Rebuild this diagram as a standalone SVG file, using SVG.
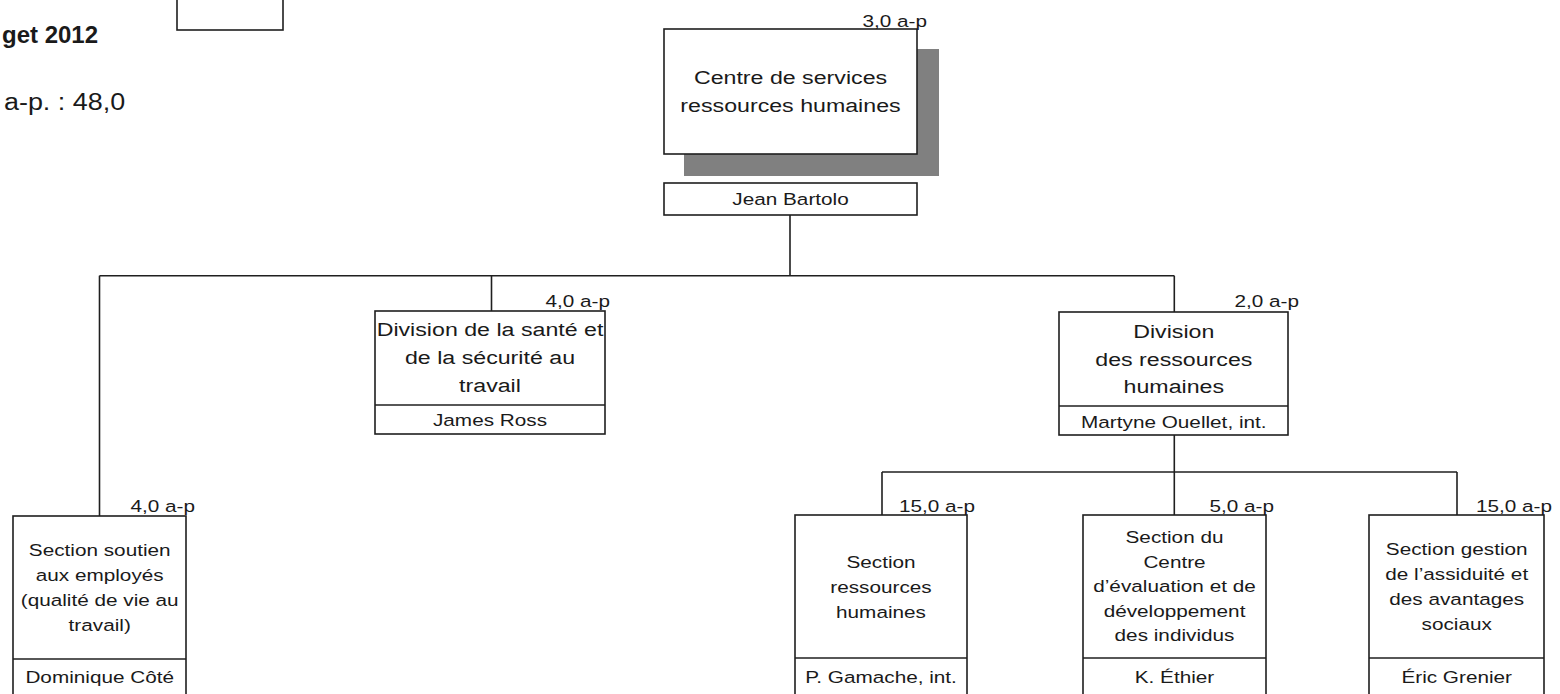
<svg xmlns="http://www.w3.org/2000/svg" width="1560" height="694" viewBox="0 0 1560 694">
<style>
  text { font-family: "Liberation Sans", Arial, sans-serif; fill: #1a1a1a; }
  .lg { font-size: 19px; text-anchor: middle; }
  .sm { font-size: 17px; text-anchor: middle; }
  .ap { font-size: 17px; text-anchor: end; }
  .box { fill: #ffffff; stroke: #1f1f1f; stroke-width: 1.6; }
  .div { stroke: #1f1f1f; stroke-width: 1.6; }
  .conn line { stroke: #1f1f1f; stroke-width: 1.6; }
  .shadow { fill: #808080; }
</style>
<rect x="0" y="0" width="1560" height="694" fill="#ffffff"/>

<g id="header">
  <rect class="box" x="177" y="-5" width="106" height="35"/>
  <text x="2" y="43" style="font-size:24px;font-weight:bold">get 2012</text>
  <text transform="matrix(1.17 0 0 1 4 110)" style="font-size:23px">a-p. : 48,0</text>
</g>

<g class="conn" id="connectors">
  <line x1="790" y1="215" x2="790" y2="275.7"/>
  <line x1="99.5" y1="275.7" x2="1174.3" y2="275.7"/>
  <line x1="491.5" y1="275.7" x2="491.5" y2="311"/>
  <line x1="1174.3" y1="275.7" x2="1174.3" y2="312"/>
  <line x1="99.5" y1="275.7" x2="99.5" y2="516"/>
  <line x1="1174.3" y1="435" x2="1174.3" y2="515"/>
  <line x1="882" y1="472" x2="1457" y2="472"/>
  <line x1="882" y1="472" x2="882" y2="515"/>
  <line x1="1457" y1="472" x2="1457" y2="515"/>
</g>

<g id="node-centre">
  <rect class="shadow" x="684" y="49" width="255" height="127"/>
  <rect class="box" x="664" y="29" width="253" height="125"/>
  <text class="ap" transform="matrix(1.22 0 0 1 927 27)">3,0 a-p</text>
  <text class="lg" transform="matrix(1.22 0 0 1 790.5 84)">Centre de services</text>
  <text class="lg" transform="matrix(1.22 0 0 1 790.5 112)">ressources humaines</text>
  <rect class="box" x="664" y="183" width="253" height="32"/>
  <text class="sm" transform="matrix(1.22 0 0 1 790.5 205)">Jean Bartolo</text>
</g>

<g id="node-sante">
  <rect class="box" x="375" y="311" width="230" height="123"/>
  <line class="div" x1="375" y1="405" x2="605" y2="405"/>
  <text class="ap" transform="matrix(1.22 0 0 1 610 307)">4,0 a-p</text>
  <text class="lg" transform="matrix(1.22 0 0 1 490 336)">Division de la santé et</text>
  <text class="lg" transform="matrix(1.22 0 0 1 490 364)">de la sécurité au</text>
  <text class="lg" transform="matrix(1.22 0 0 1 490 392)">travail</text>
  <text class="sm" transform="matrix(1.22 0 0 1 490 426)">James Ross</text>
</g>

<g id="node-drh">
  <rect class="box" x="1059" y="312" width="229" height="123"/>
  <line class="div" x1="1059" y1="406" x2="1288" y2="406"/>
  <text class="ap" transform="matrix(1.22 0 0 1 1299 307)">2,0 a-p</text>
  <text class="lg" transform="matrix(1.22 0 0 1 1173.8 338)">Division</text>
  <text class="lg" transform="matrix(1.22 0 0 1 1173.8 366)">des ressources</text>
  <text class="lg" transform="matrix(1.22 0 0 1 1173.8 393)">humaines</text>
  <text class="sm" transform="matrix(1.22 0 0 1 1173.8 428)">Martyne Ouellet, int.</text>
</g>

<g id="node-soutien">
  <rect class="box" x="13" y="516" width="173" height="190"/>
  <line class="div" x1="13" y1="659" x2="186" y2="659"/>
  <text class="ap" transform="matrix(1.22 0 0 1 195 512)">4,0 a-p</text>
  <text class="sm" transform="matrix(1.22 0 0 1 99.7 555.5)">Section soutien</text>
  <text class="sm" transform="matrix(1.22 0 0 1 99.7 580.5)">aux employés</text>
  <text class="sm" transform="matrix(1.22 0 0 1 99.7 605.5)">(qualité de vie au</text>
  <text class="sm" transform="matrix(1.22 0 0 1 99.7 630.5)">travail)</text>
  <text class="sm" transform="matrix(1.22 0 0 1 99.7 683)">Dominique Côté</text>
</g>

<g id="node-srh">
  <rect class="box" x="795" y="515" width="172" height="190"/>
  <line class="div" x1="795" y1="658" x2="967" y2="658"/>
  <text class="ap" transform="matrix(1.22 0 0 1 975 512)">15,0 a-p</text>
  <text class="sm" transform="matrix(1.22 0 0 1 881 568)">Section</text>
  <text class="sm" transform="matrix(1.22 0 0 1 881 592.5)">ressources</text>
  <text class="sm" transform="matrix(1.22 0 0 1 881 617.5)">humaines</text>
  <text class="sm" transform="matrix(1.22 0 0 1 881 683)">P. Gamache, int.</text>
</g>

<g id="node-centre-eval">
  <rect class="box" x="1083" y="515" width="183" height="190"/>
  <line class="div" x1="1083" y1="658" x2="1266" y2="658"/>
  <text class="ap" transform="matrix(1.22 0 0 1 1274 512)">5,0 a-p</text>
  <text class="sm" transform="matrix(1.22 0 0 1 1174.5 543)">Section du</text>
  <text class="sm" transform="matrix(1.22 0 0 1 1174.5 567.5)">Centre</text>
  <text class="sm" transform="matrix(1.22 0 0 1 1174.5 592)">d’évaluation et de</text>
  <text class="sm" transform="matrix(1.22 0 0 1 1174.5 616.5)">développement</text>
  <text class="sm" transform="matrix(1.22 0 0 1 1174.5 641)">des individus</text>
  <text class="sm" transform="matrix(1.22 0 0 1 1174.5 683)">K. Éthier</text>
</g>

<g id="node-assiduite">
  <rect class="box" x="1369" y="515" width="175" height="190"/>
  <line class="div" x1="1369" y1="658" x2="1544" y2="658"/>
  <text class="ap" transform="matrix(1.22 0 0 1 1552 512)">15,0 a-p</text>
  <text class="sm" transform="matrix(1.22 0 0 1 1456.7 554.5)">Section gestion</text>
  <text class="sm" transform="matrix(1.22 0 0 1 1456.7 580)">de l’assiduité et</text>
  <text class="sm" transform="matrix(1.22 0 0 1 1456.7 605)">des avantages</text>
  <text class="sm" transform="matrix(1.22 0 0 1 1456.7 630)">sociaux</text>
  <text class="sm" transform="matrix(1.22 0 0 1 1456.7 683)">Éric Grenier</text>
</g>
</svg>
